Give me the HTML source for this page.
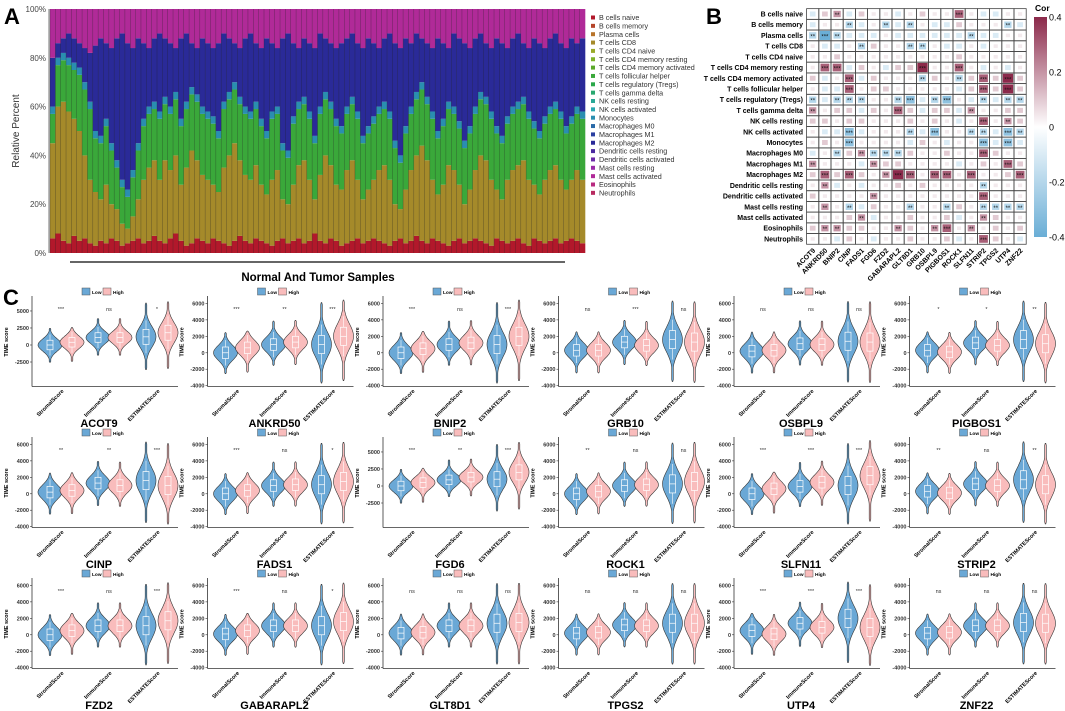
<!DOCTYPE html>
<html><head><meta charset="utf-8"><style>
html,body{margin:0;padding:0;background:#fff;}
svg{display:block;font-family:"Liberation Sans",Arial,sans-serif;}
</style></head><body>
<svg id="fig" width="1065" height="711" viewBox="0 0 1065 711" xmlns="http://www.w3.org/2000/svg"></svg>
<script>
// ---------- Panel A data ----------
const cellTypes=["B cells naive","B cells memory","Plasma cells","T cells CD8","T cells CD4 naive","T cells CD4 memory resting","T cells CD4 memory activated","T cells follicular helper","T cells regulatory (Tregs)","T cells gamma delta","NK cells resting","NK cells activated","Monocytes","Macrophages M0","Macrophages M1","Macrophages M2","Dendritic cells resting","Dendritic cells activated","Mast cells resting","Mast cells activated","Eosinophils","Neutrophils"];
const cellColors=["#b2182b","#b5452a","#b8742a","#a58a2a","#9aaa2a","#7fb22a","#5aa82a","#3aa83a","#2aa84a","#2aa870","#2aa896","#2aa8b0","#2a8eb0","#2a6aa8","#2a3fa0","#2a2a98","#4a2aa0","#6a2aa8","#9a2aa8","#b02a98","#b82a80","#b82a60"];
const redTop=[6,8,5,4,7,5,6,4,3,5,4,6,5,3,4,5,6,4,5,7,5,4,6,8,5,3,4,6,5,4,6,5,4,3,5,7,5,4,6,5,4,3,5,6,4,5,6,4,5,8,5,4,6,5,3,4,5,6,4,5,6,5,4,3,5,6,4,5,7,5,4,6,5,4,3,5,6,4,5,6,5,4,3,6,5,4,5,6,4,3,6,5,4,5,6,4,5,6,5,4];
const oliveTop=[45,60,62,58,55,50,40,30,25,22,28,20,18,12,10,15,22,30,35,38,30,38,34,40,28,35,42,38,32,30,28,25,35,40,45,38,32,30,36,28,24,30,34,22,20,28,36,38,30,22,32,40,36,28,26,34,38,30,22,26,30,34,36,30,20,18,26,34,40,44,38,30,24,28,36,34,28,20,26,34,40,38,30,26,22,30,34,36,38,30,28,24,30,34,36,30,26,30,34,30];
const greenTop=[60,80,82,80,78,76,70,62,50,48,55,45,38,30,26,34,45,55,60,62,58,64,60,66,55,62,68,65,60,58,56,50,62,66,70,64,60,58,62,55,50,58,60,45,42,56,62,64,58,48,60,66,62,55,52,60,64,58,48,52,56,60,62,58,46,40,52,60,66,70,64,58,50,55,62,60,54,46,52,60,66,64,58,52,48,56,60,62,64,58,54,50,56,60,62,58,52,56,60,58];
const blueTop=[80,86,88,90,88,86,84,82,85,88,86,84,88,90,86,84,88,86,84,88,90,88,86,84,88,90,86,84,88,86,84,86,90,88,86,84,88,90,86,84,88,86,84,88,90,86,84,88,86,84,90,88,86,84,86,88,90,86,84,88,86,84,88,90,86,84,88,86,90,88,86,84,88,86,84,90,88,86,84,88,90,86,84,88,86,84,88,90,86,84,88,86,84,88,90,86,84,88,86,88];
const pctTicks=["0%","20%","40%","60%","80%","100%"];

// ---------- Panel B data ----------
const genes=["ACOT9","ANKRD50","BNIP2","CINP","FADS1","FGD6","FZD2","GABARAPL2","GLT8D1","GRB10","OSBPL9","PIGBOS1","ROCK1","SLFN11","STRIP2","TPGS2","UTP4","ZNF22"];
const corTenths=[
[-1,1,2,-1,1,0,0,-1,0,1,0,0,3,0,-1,-1,0,0],
[-1,0,0,-2,-1,0,-2,-1,-2,0,-1,-1,1,0,0,0,-2,-1],
[-2,-4,-2,-1,-1,-1,0,-1,-1,-1,-1,-1,-1,-2,-1,-1,0,0],
[0,-1,-1,0,-2,1,0,0,-2,-2,0,-1,-1,0,-1,0,0,0],
[0,0,1,0,0,0,0,0,0,0,0,0,1,0,0,0,0,0],
[0,3,3,-1,1,0,-1,1,1,4,0,0,3,0,-1,0,-1,0],
[1,-1,0,3,-1,1,0,0,0,-2,1,0,-2,1,3,1,4,1],
[0,-1,-1,3,0,1,1,0,0,0,0,0,-1,1,3,1,4,1],
[-2,-1,-2,-2,-2,0,0,-2,-3,-1,-2,-3,0,-1,-2,-1,-2,-2],
[2,0,1,1,-1,1,0,3,1,-1,1,1,-1,2,0,0,1,1],
[1,1,0,1,1,0,0,0,1,0,1,0,-1,0,3,0,2,1],
[0,-1,-1,-3,-1,0,0,0,-2,-1,-3,0,0,-2,-2,-1,-3,-2],
[0,1,0,-3,0,0,0,0,-1,1,0,-1,0,0,-3,-1,-3,-1],
[-1,0,-2,1,2,-2,-2,-2,1,0,0,1,0,0,3,1,0,0],
[2,0,0,0,-1,2,1,1,0,0,0,0,-1,0,1,0,3,1],
[1,3,1,3,1,0,2,4,3,0,3,3,0,3,0,0,1,3],
[0,2,-1,0,-1,0,0,1,0,1,0,0,0,0,-2,0,0,0],
[1,0,0,0,0,2,0,0,0,0,0,0,0,0,3,0,0,0],
[0,2,0,-2,-1,1,0,0,-2,0,0,-2,1,0,-2,-2,-2,-2],
[0,0,0,1,2,-1,0,0,1,0,0,1,-1,0,2,1,0,0],
[1,2,2,1,1,0,0,2,1,0,2,3,0,2,0,1,0,1],
[0,0,-1,1,0,-1,0,0,1,0,0,1,-1,0,3,1,0,-1]];
const corTicks=[0.4,0.2,0,-0.2,-0.4];

// ---------- Panel C data ----------
const violinGenes=["ACOT9","ANKRD50","BNIP2","GRB10","OSBPL9","PIGBOS1","CINP","FADS1","FGD6","ROCK1","SLFN11","STRIP2","FZD2","GABARAPL2","GLT8D1","TPGS2","UTP4","ZNF22"];
const scoreGroups=["StromalScore","ImmuneScore","ESTIMATEScore"];
const lowMedians=[[0,1100,1200],[0,1000,1000],[0,1000,1000],[300,1300,1600],[200,1100,1400],[300,1200,1600],[200,1300,1600],[0,1000,1100],[0,900,1000],[0,1000,1200],[0,900,1000],[300,1200,1700],[0,1100,1100],[100,1100,1100],[200,1100,1400],[200,1200,1400],[500,1400,2000],[200,1100,1500]];
const highMedians=[[400,1100,1800],[600,1300,2000],[500,1200,2000],[300,900,1300],[300,1000,1300],[100,900,1100],[400,1000,1000],[400,1100,1500],[500,1300,2000],[300,1100,1500],[600,1400,2200],[100,1000,1100],[500,1100,1700],[500,1100,1600],[300,1100,1500],[300,1100,1400],[100,900,900],[300,1100,1400]];
const sigLabels=[["***","ns","*"],["***","**","***"],["***","ns","***"],["ns","***","ns"],["ns","ns","ns"],["*","*","**"],["**","**","***"],["***","ns","*"],["***","**","***"],["**","ns","ns"],["***","***","***"],["**","ns","**"],["***","ns","***"],["***","ns","*"],["ns","ns","ns"],["ns","ns","ns"],["***","***","***"],["ns","ns","ns"]];
const groupMin=[-2300,-1600,-3600];
const groupMax=[2700,3800,6200];
const ticksDefault=[-4000,-2000,0,2000,4000,6000];
const ticksAlt=[-2500,0,2500,5000];
const altTickGenes=["ACOT9","FGD6"];

const svg=document.getElementById('fig');
const NS="http://www.w3.org/2000/svg";
function mk(tag,attrs,parent){const e=document.createElementNS(NS,tag);for(const k in attrs)e.setAttribute(k,attrs[k]);(parent||svg).appendChild(e);return e;}
function txt(s,attrs,parent){const e=mk('text',attrs,parent);e.textContent=s;return e;}

["A","B","C"].forEach((L,i)=>{const p=[[4,24],[706,24],[3,305]][i];
 const t=txt(L,{x:p[0],y:p[1],'font-size':22,'font-weight':'bold'});
 
 });

// ===== Panel A =====
(function(){
 const g=mk('g',{});
 
 
 const x0=50,x1=585,yTop=9,yBot=253;
 const n=redTop.length,bw=(x1-x0)/n;
 const ys=v=>yBot-(v/100)*(yBot-yTop);
 for(let i=0;i<n;i++){
  const bands=[[0,redTop[i],cellColors[0]],[redTop[i],oliveTop[i],cellColors[3]],[oliveTop[i],greenTop[i]-3,cellColors[7]],[greenTop[i]-3,greenTop[i],cellColors[12]],[greenTop[i],blueTop[i],cellColors[15]],[blueTop[i],100,cellColors[19]]];
  bands.forEach((b,k)=>{
   const r=mk('rect',{x:x0+i*bw,y:ys(b[1]),width:bw+0.3,height:Math.max(0,ys(b[0])-ys(b[1])),fill:b[2]},g);
   
   
  });
  const sep=mk('line',{x1:x0+i*bw,x2:x0+i*bw,y1:yTop,y2:yBot,stroke:'#222','stroke-width':0.5,'stroke-opacity':0.5},g);
  
  
 }
 const ax=mk('line',{x1:x0-1,x2:x0-1,y1:yTop,y2:yBot,stroke:'#777','stroke-width':1},g);
 
 
 pctTicks.forEach((t,k)=>{const y=ys(k*20);
  const l=txt(t,{x:x0-4,y:y+3,'font-size':8,'text-anchor':'end',fill:'#444'},g);
  
  });
 const yt=txt("Relative Percent",{x:0,y:0,'font-size':10,'text-anchor':'middle',fill:'#333',transform:'translate(19,131) rotate(-90)'},g);
 
 
 const ul=mk('line',{x1:70,x2:565,y1:262,y2:262,stroke:'#333','stroke-width':1.5},g);
 
 
 const xt=txt("Normal And Tumor Samples",{x:318,y:281,'font-size':11.5,'font-weight':'bold','text-anchor':'middle'},g);
 
 
 cellTypes.forEach((c,k)=>{const y=17.5+k*8.35;
  const e=mk('g',{},g);
  
  
  mk('rect',{x:591,y:y-2,width:4,height:4,fill:cellColors[k]},e);
  txt(c,{x:599,y:y+2.6,'font-size':7.2,fill:'#333'},e);});
})();

// ===== Panel B =====
(function(){
 const g=mk('g',{});
 
 
 const cx0=812.7,cdx=12.2,cy0=14,cdy=10.71;
 const pos=[139,41,74],neg=[106,174,214];
 const col=v=>{const t=Math.min(1,Math.abs(v)/0.4),c=v>=0?pos:neg;return 'rgb('+c.map(q=>Math.round(255+(q-255)*t)).join(',')+')';};
 corTenths.forEach((row,r)=>{
  const lab=txt(cellTypes[r],{x:803,y:cy0+r*cdy+2.5,'font-size':7,'font-weight':'bold','text-anchor':'end'},g);
  
  
  row.forEach((tv,c)=>{const v=tv/10;const x=cx0+c*cdx,y=cy0+r*cdy;
   const fr=mk('rect',{x:x-cdx/2,y:y-cdy/2,width:cdx,height:cdy,fill:'none',stroke:'#444','stroke-width':0.8},g);
   
   
   const s=(0.4+0.6*Math.abs(v)/0.4);
   const sq=mk('rect',{x:x-cdx*0.85*s/2,y:y-cdy*0.85*s/2,width:cdx*0.85*s,height:cdy*0.85*s,fill:col(v===0?0.04:v)},g);
   
   
   const a=Math.abs(tv);
   if(a>=2){const st=txt(a>=3?"***":"**",{x:x,y:y+3,'font-size':6,'text-anchor':'middle',fill:'#111'},g);
    
    }
  });
 });
 genes.forEach((gn,c)=>{const x=cx0+c*cdx;
  const t=txt(gn,{x:0,y:0,'font-size':7,'font-weight':'bold','text-anchor':'end',transform:'translate('+(x+3)+',251) rotate(-45)'},g);
  
  });
 const defs=mk('defs',{});
 const lg=mk('linearGradient',{id:'cbar',x1:0,y1:0,x2:0,y2:1},defs);
 mk('stop',{offset:'0','stop-color':'rgb(139,41,74)'},lg);
 mk('stop',{offset:'0.5','stop-color':'#ffffff'},lg);
 mk('stop',{offset:'1','stop-color':'rgb(106,174,214)'},lg);
 const cb=mk('rect',{x:1034,y:17,width:13,height:220,fill:'url(#cbar)'},g);
 
 
 const ct=txt("Cor",{x:1035,y:11,'font-size':8.5,'font-weight':'bold'},g);
 
 
 corTicks.forEach(v=>{const y=17+(0.4-v)/0.8*220;
  const t=txt(String(v),{x:1049,y:y+3.5,'font-size':9},g);
  
  });
})();

// ===== Panel C =====
(function(){
 const lowFill="#6aa8d6",highFill="#f9bcbc";
 violinGenes.forEach((gn,p)=>{
  const r=Math.floor(p/6),c=p%6;
  const ax=32+175.5*c,T=292+141*r,pw=146;
  const g=mk('g',{});
  
  
  const alt=altTickGenes.includes(gn);
  const dmin=alt?-6100:-4100,dmax=alt?7200:6900;
  const ticks=alt?ticksAlt:ticksDefault;
  const yB=T+94.5,yT=T+4;
  const ys=v=>yB-(v-dmin)/(dmax-dmin)*(yB-yT);
  const yax=mk('line',{x1:ax,x2:ax,y1:yT,y2:yB,stroke:'#333','stroke-width':0.8},g);
  
  
  const xax=mk('line',{x1:ax,x2:ax+pw,y1:yB,y2:yB,stroke:'#333','stroke-width':0.8},g);
  
  
  ticks.forEach(t=>{const y=ys(t);
   mk('line',{x1:ax-2,x2:ax,y1:y,y2:y,stroke:'#333','stroke-width':0.6},g);
   const l=txt(String(t),{x:ax-3,y:y+2,'font-size':5.5,'font-weight':'bold','text-anchor':'end',fill:'#333'},g);
   
   });
  const yl=txt("TIME score",{x:0,y:0,'font-size':5.5,'font-weight':'bold','text-anchor':'middle',transform:'translate('+(ax-24)+','+(T+50)+') rotate(-90)'},g);
  
  
  const lgd=mk('g',{},g);
  
  
  mk('rect',{x:ax+50,y:T-4,width:8,height:7,fill:lowFill,stroke:'#555','stroke-width':0.5},lgd);
  txt("Low",{x:ax+60,y:T+1.8,'font-size':4.8,'font-weight':'bold'},lgd);
  mk('rect',{x:ax+71,y:T-4,width:8,height:7,fill:highFill,stroke:'#555','stroke-width':0.5},lgd);
  txt("High",{x:ax+81,y:T+1.8,'font-size':4.8,'font-weight':'bold'},lgd);
  scoreGroups.forEach((sg,k)=>{
   const gx=ax+29+48*k;
   [[lowMedians[p][k],lowFill,-11,'low'],[highMedians[p][k],highFill,11,'high']].forEach(d=>{
    const m=d[0],vx=gx+d[2];
    const s=k===2?1500:900,Wm=k===2?10:12;
    const lo=groupMin[k]+(m-(k===2?1300:800))*0.3,hi=groupMax[k]+(m-(k===2?1300:800))*0.3;
    let L=[],R=[];const N=40;
    for(let i=0;i<=N;i++){const v=lo+(hi-lo)*i/N;
     let w=Wm*Math.exp(-0.5*Math.pow((v-m)/s,2));w=Math.max(w,0.8);if(i===0||i===N)w=0.3;
     L.push((vx-w).toFixed(1)+','+ys(v).toFixed(1));R.unshift((vx+w).toFixed(1)+','+ys(v).toFixed(1));}
    const vp=mk('path',{d:'M'+L.join('L')+'L'+R.join('L')+'Z',fill:d[1],stroke:'#333','stroke-width':0.6},g);
    
    
    const iq=k===2?1100:700;
    const wh=mk('line',{x1:vx,x2:vx,y1:ys(m-iq*2.2),y2:ys(m+iq*2.2),stroke:'#fff','stroke-width':0.6},g);
    
    
    const bx=mk('rect',{x:vx-3,y:ys(m+iq),width:6,height:ys(m-iq)-ys(m+iq),fill:d[1],stroke:'#fff','stroke-width':0.7},g);
    
    
    mk('line',{x1:vx-3,x2:vx+3,y1:ys(m),y2:ys(m),stroke:'#fff','stroke-width':0.7},g);
   });
   const sl=txt(sigLabels[p][k],{x:gx,y:T+19,'font-size':5.5,'text-anchor':'middle',fill:'#333'},g);
   
   
   const xl=txt(sg,{x:0,y:0,'font-size':5.5,'font-weight':'bold','text-anchor':'end',transform:'translate('+(gx+3)+','+(yB+5)+') rotate(-45)'},g);
   
   
  });
  const tt=txt(gn,{x:ax+67,y:T+135,'font-size':11,'font-weight':'bold','text-anchor':'middle'},g);
  
  
 });
})();
</script>
</body></html>
